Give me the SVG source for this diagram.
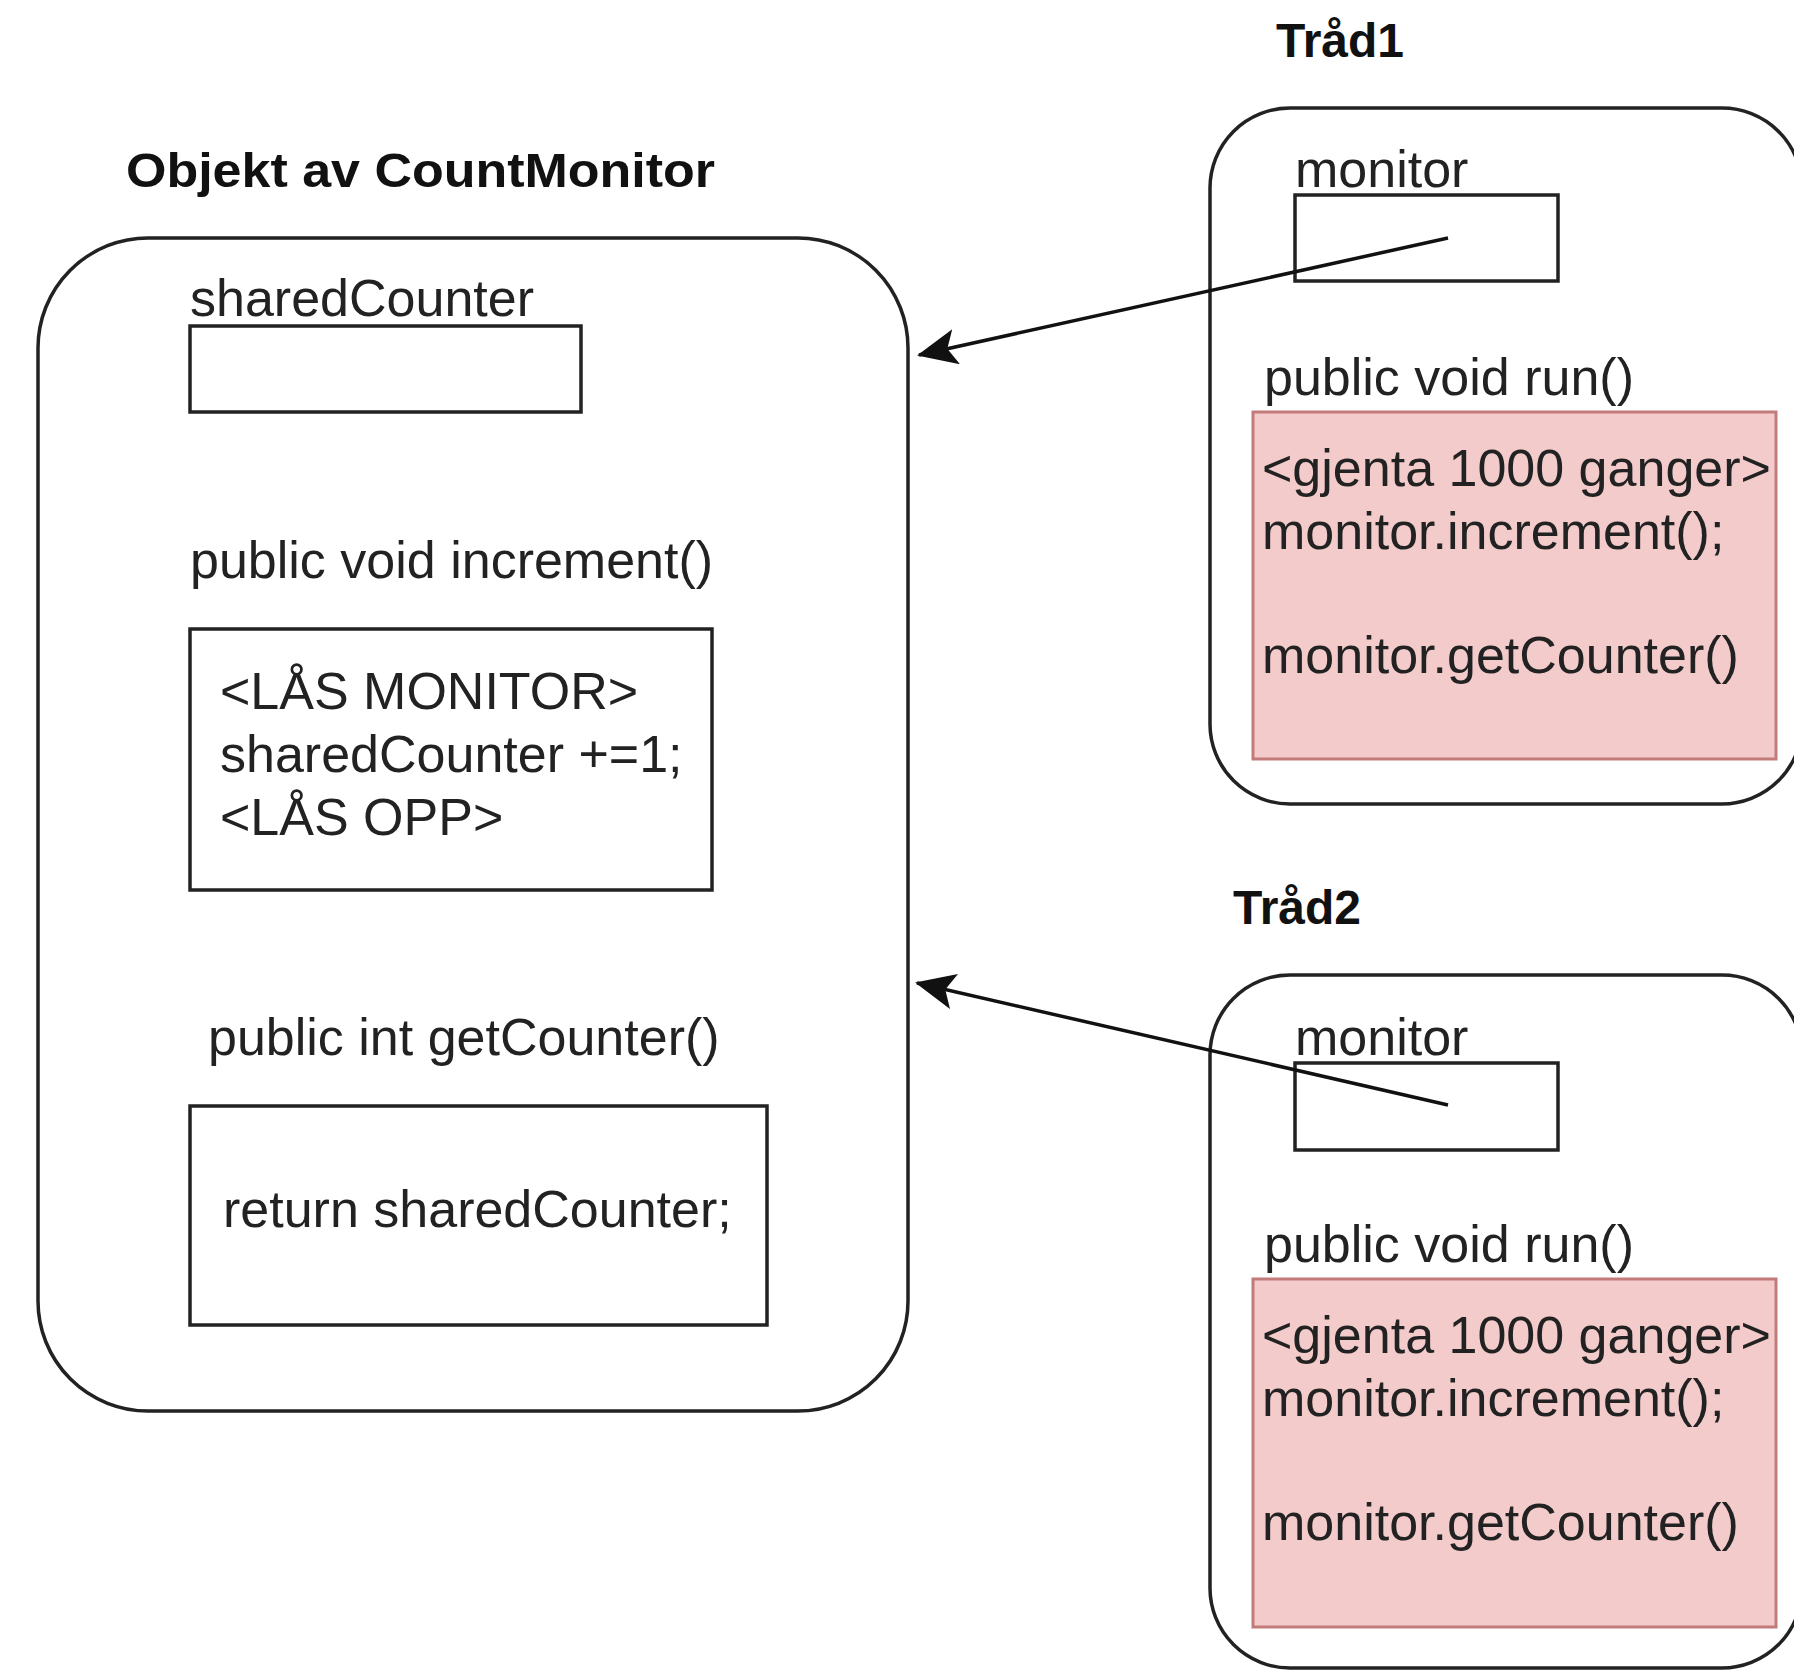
<svg xmlns="http://www.w3.org/2000/svg" width="1794" height="1671" viewBox="0 0 1794 1671">
<defs>
<style>
.t{font-family:"Liberation Sans",Arial,sans-serif;font-size:52px;fill:#222}
.b{font-family:"Liberation Sans",Arial,sans-serif;font-size:48px;font-weight:bold;fill:#111}
.c{fill:#fff;stroke:#222;stroke-width:3.5}
.r{fill:none;stroke:#222;stroke-width:3.5}
.p{fill:#f3cbcb;stroke:#c27b7b;stroke-width:3}
.e{stroke:#111;stroke-width:3.5;fill:none}
</style>
<marker id="ah" viewBox="0 0 40 36" refX="38" refY="18" markerWidth="40" markerHeight="36" markerUnits="userSpaceOnUse" orient="auto">
<path d="M0,0 L40,18 L0,36 L9,18 Z" fill="#111"/>
</marker>
</defs>
<rect width="1794" height="1671" fill="#fff"/>

<g id="countmonitor">
<text class="b" x="126" y="187" textLength="589" lengthAdjust="spacingAndGlyphs">Objekt av CountMonitor</text>
<rect class="c" x="38" y="238" width="870" height="1173" rx="110" ry="110"/>
<text class="t" x="190" y="316">sharedCounter</text>
<rect class="r" x="190" y="326" width="391" height="86"/>
<text class="t" x="190" y="578">public void increment()</text>
<rect class="r" x="190" y="629" width="522" height="261"/>
<text class="t" x="220" y="709">&lt;LÅS MONITOR&gt;</text>
<text class="t" x="220" y="772">sharedCounter +=1;</text>
<text class="t" x="220" y="835">&lt;LÅS OPP&gt;</text>
<text class="t" x="208" y="1055">public int getCounter()</text>
<rect class="r" x="190" y="1106" width="577" height="219"/>
<text class="t" x="223" y="1227">return sharedCounter;</text>
</g>

<g id="trad1">
<text class="b" x="1276" y="57">Tråd1</text>
<rect class="c" x="1210" y="108" width="592" height="696" rx="80" ry="80"/>
<text class="t" x="1295" y="187">monitor</text>
<rect class="r" x="1295" y="195" width="263" height="86"/>
<text class="t" x="1264" y="395">public void run()</text>
<rect class="p" x="1253" y="412" width="523" height="347"/>
<text class="t" x="1262" y="486">&lt;gjenta 1000 ganger&gt;</text>
<text class="t" x="1262" y="549">monitor.increment();</text>
<text class="t" x="1262" y="673">monitor.getCounter()</text>
</g>

<g id="trad2">
<text class="b" x="1233" y="924">Tråd2</text>
<rect class="c" x="1210" y="975" width="592" height="693" rx="80" ry="80"/>
<text class="t" x="1295" y="1055">monitor</text>
<rect class="r" x="1295" y="1063" width="263" height="87"/>
<text class="t" x="1264" y="1262">public void run()</text>
<rect class="p" x="1253" y="1279" width="523" height="348"/>
<text class="t" x="1262" y="1353">&lt;gjenta 1000 ganger&gt;</text>
<text class="t" x="1262" y="1416">monitor.increment();</text>
<text class="t" x="1262" y="1540">monitor.getCounter()</text>
</g>

<g id="connectors">
<line class="e" x1="1448" y1="238" x2="919" y2="355" marker-end="url(#ah)"/>
<line class="e" x1="1448" y1="1105" x2="917" y2="983" marker-end="url(#ah)"/>
</g>
</svg>
